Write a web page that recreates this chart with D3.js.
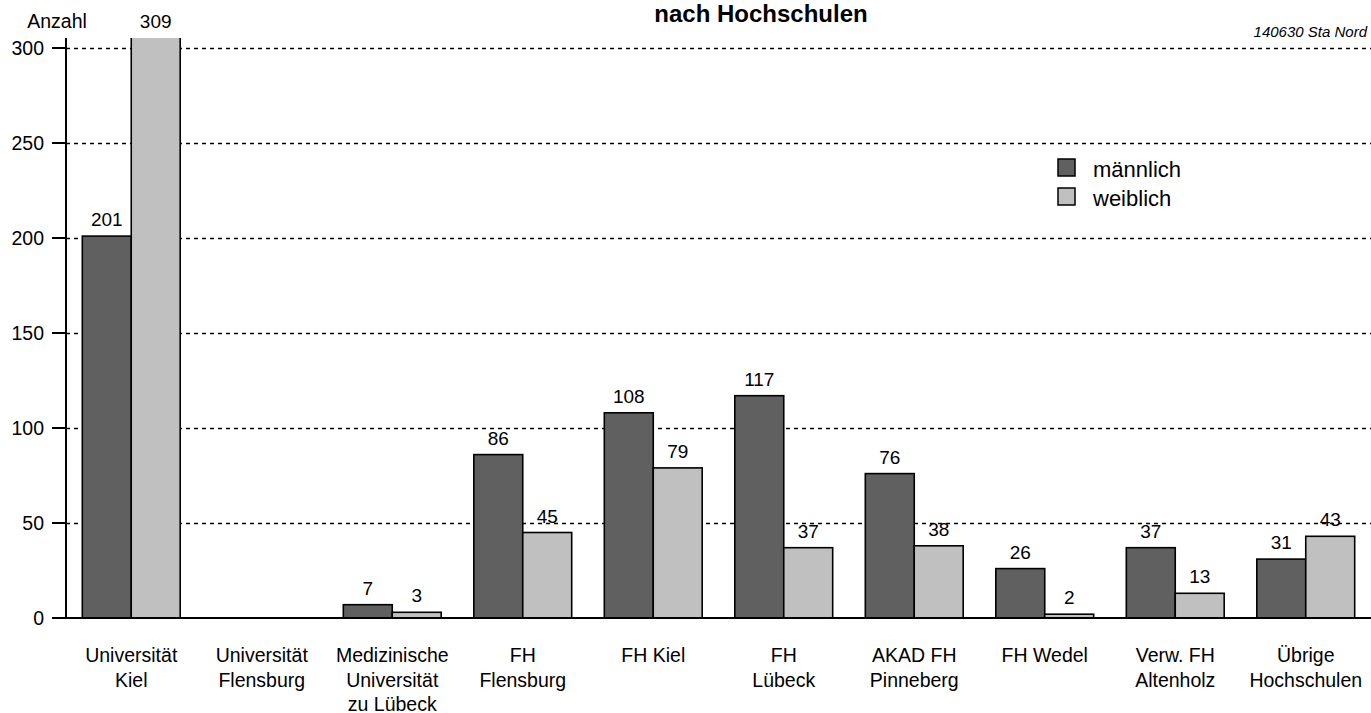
<!DOCTYPE html>
<html>
<head>
<meta charset="utf-8">
<script src="https://cdn.jsdelivr.net/npm/d3@7"></script>
<style>
  body { margin: 0; background: #fff; }
  text { font-family: "Liberation Sans", Arial, sans-serif; fill: #000; }
</style>
</head>
<body>
<div id="chart"></div>
<script>
var categories = [
  ["Universität", "Kiel"],
  ["Universität", "Flensburg"],
  ["Medizinische", "Universität", "zu Lübeck"],
  ["FH", "Flensburg"],
  ["FH Kiel"],
  ["FH", "Lübeck"],
  ["AKAD FH", "Pinneberg"],
  ["FH Wedel"],
  ["Verw. FH", "Altenholz"],
  ["Übrige", "Hochschulen"]
];
var maennlich = [201, 0, 7, 86, 108, 117, 76, 26, 37, 31];
var weiblich  = [309, 0, 3, 45, 79, 37, 38, 2, 13, 43];
var seriesNames = ["männlich", "weiblich"];
var seriesColors = ["#606060", "#c0c0c0"];
var yTicks = [0, 50, 100, 150, 200, 250, 300];

var W = 1371, H = 713;
var x0 = 66, x1 = 1371, yTop = 38, yBase = 618;

var svg = d3.select("#chart").append("svg")
    .attr("width", W)
    .attr("height", H);

var ids = categories.map(function(d, i) { return i; });

var x = d3.scaleBand().domain(ids).range([x0, x1])
    .paddingInner(0.25).paddingOuter(0.125);
var xs = d3.scaleBand().domain([0, 1]).range([0, x.bandwidth()]);
var y = d3.scaleLinear().domain([0, 300]).range([yBase, yBase - 570]);

var data = ids.map(function(i) {
  return { i: i, vals: [maennlich[i], weiblich[i]] };
});

// gridlines
svg.append("g")
  .selectAll("line")
  .data(yTicks.filter(function(t) { return t > 0; }))
  .enter().append("line")
    .attr("x1", x0).attr("x2", x1)
    .attr("y1", function(d) { return Math.round(y(d)) + 0.5; })
    .attr("y2", function(d) { return Math.round(y(d)) + 0.5; })
    .attr("stroke", "#000")
    .attr("stroke-width", 1.5)
    .attr("stroke-dasharray", "4,4");

// bars (clipped at the top of the plot area)
svg.append("clipPath").attr("id", "plot")
  .append("rect").attr("x", x0).attr("y", yTop)
  .attr("width", x1 - x0).attr("height", yBase - yTop + 2);

var groups = svg.append("g").attr("clip-path", "url(#plot)")
  .selectAll("g")
  .data(data)
  .enter().append("g")
    .attr("transform", function(d) { return "translate(" + x(d.i) + ",0)"; });

groups.selectAll("rect")
  .data(function(d) { return d.vals.map(function(v, k) { return { v: v, k: k }; }); })
  .enter().filter(function(d) { return d.v > 0; }).append("rect")
    .attr("x", function(d) { return xs(d.k); })
    .attr("y", function(d) { return y(d.v); })
    .attr("width", xs.bandwidth())
    .attr("height", function(d) { return yBase - y(d.v); })
    .attr("fill", function(d) { return seriesColors[d.k]; })
    .attr("stroke", "#000")
    .attr("stroke-width", 1.6);

// value labels
var labels = svg.append("g");
data.forEach(function(d) {
  d.vals.forEach(function(v, k) {
    if (!v) return;
    var top = Math.max(y(v), yTop);
    labels.append("text")
      .attr("x", x(d.i) + xs(k) + xs.bandwidth() / 2)
      .attr("y", top - 10)
      .attr("text-anchor", "middle")
      .attr("font-size", 19)
      .text(v);
  });
});

// axes
var yAxis = svg.append("g")
    .attr("transform", "translate(" + x0 + ",0)");
yAxis.append("line")
    .attr("x1", 0).attr("x2", 0)
    .attr("y1", yTop).attr("y2", yBase)
    .attr("stroke", "#000").attr("stroke-width", 2);
yAxis.selectAll(".tick")
  .data(yTicks)
  .enter().append("g")
    .attr("class", "tick")
    .attr("transform", function(d) { return "translate(0," + y(d) + ")"; })
    .each(function(d) {
      var g = d3.select(this);
      g.append("line").attr("x1", -14).attr("x2", 0)
        .attr("stroke", "#000").attr("stroke-width", 2);
      g.append("text").attr("x", -22).attr("dy", "0.35em")
        .attr("text-anchor", "end").attr("font-size", 19.5).text(d);
    });

svg.append("line")
    .attr("x1", x0 - 14).attr("x2", x1)
    .attr("y1", yBase).attr("y2", yBase)
    .attr("stroke", "#000").attr("stroke-width", 2);

// category labels
svg.append("g").selectAll("text")
  .data(data)
  .enter().append("text")
    .attr("text-anchor", "middle")
    .attr("font-size", 19.5)
    .attr("transform", function(d) { return "translate(" + (x(d.i) + x.bandwidth() / 2) + ",662)"; })
    .each(function(d) {
      var t = d3.select(this);
      categories[d.i].forEach(function(line, j) {
        t.append("tspan").attr("x", 0).attr("y", j * 24.5).text(line);
      });
    });

// texts
svg.append("text").attr("x", 57).attr("y", 28)
  .attr("text-anchor", "middle").attr("font-size", 19.5).text("Anzahl");
svg.append("text").attr("x", 761).attr("y", 22)
  .attr("text-anchor", "middle").attr("font-size", 24)
  .attr("font-weight", "bold").text("nach Hochschulen");
svg.append("text").attr("x", 1367).attr("y", 37)
  .attr("text-anchor", "end").attr("font-size", 15)
  .attr("font-style", "italic").text("140630 Sta Nord");

// legend
var legend = svg.append("g").attr("transform", "translate(1058,159)");
seriesNames.forEach(function(name, k) {
  legend.append("rect")
    .attr("x", 0).attr("y", k * 29)
    .attr("width", 17).attr("height", 17)
    .attr("fill", seriesColors[k])
    .attr("stroke", "#000").attr("stroke-width", 1.5);
  legend.append("text")
    .attr("x", 35).attr("y", k * 28.5 + 18)
    .attr("font-size", 22).text(name);
});
</script>
</body>
</html>
